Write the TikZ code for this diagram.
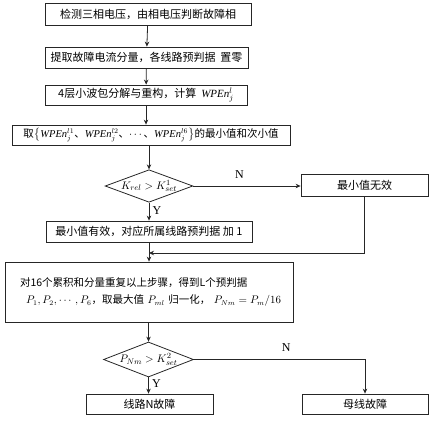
\documentclass[tikz,border=0pt]{standalone}
\usepackage{amsmath}
\usepackage{fontspec}
\setmainfont{Liberation Serif}
\newfontfamily\cjk{Noto Sans CJK SC}
\usetikzlibrary{shapes.geometric,arrows.meta}
\newcommand{\lw}[0] {0.8pt}

\tikzset{
  box/.style={shape=rectangle,draw=black!85,line width=\lw,inner sep=0pt,font=\cjk\fontsize{11}{13}\selectfont},
  decision/.style={shape=diamond,draw=black!85,line width=\lw,aspect=2.7,inner sep=0pt,minimum width=84pt,minimum height=31pt,font=\fontsize{11}{13}\selectfont},
  flow/.style={line width=\lw,draw=black!85,-{Stealth[length=5pt,width=4.5pt]}},
  tag/.style={font=\fontsize{12}{13}\selectfont}
}

\begin{document}
\begin{tikzpicture}[x=1pt,y=-1pt]
        \useasboundingbox (0,0) rectangle (435,420);

        \node[box,minimum width=206pt,minimum height=22pt] (detect) at (148,14)     {检测三相电压，由相电压判断故障相};
        \node[box,minimum width=203pt,minimum height=21pt] (extract) at (146.5,57.5)     {提取故障电流分量，各线路预判据\ \ 置零};
        \node[box,minimum width=202pt,minimum height=20pt] (wpd) at (146,95)     {4层小波包分解与重构，计算 \ $\mathit{WPEn}_j^l$};
        \node[box,minimum width=278pt,minimum height=20pt,font=\cjk\fontsize{10.5}{13}\selectfont] (pick) at (151,135)     {取$\bigl\{\mathit{WPEn}_j^{l1}$、$\mathit{WPEn}_j^{l2}$、$\cdots$、$\mathit{WPEn}_j^{l6}\bigr\}$的最小值和次小值};
        \node[decision] (k1) at (149,186)     {$K_{rel}>K_{set}^1$};
        \node[box,minimum width=127pt,minimum height=22pt] (bad) at (364.5,185)     {最小值无效};
        \node[box,minimum width=206pt,minimum height=21pt] (good) at (149,231.5)     {最小值有效，对应所属线路预判据\ 加\ 1};
        \node[box,minimum width=288pt,minimum height=60pt,text width=258pt,align=left,font=\cjk\fontsize{10.5}{13}\selectfont] (repeat) at (149,292)     {对16个累积和分量重复以上步骤，得到L个预判据\\[4pt]
          \mbox{\hspace{6pt}$P_1,P_2,\cdots,P_6$，取最大值 $P_{ml}$ 归一化，\ $P_{Nm}=P_m/16$}};
        \node[decision,minimum height=35pt] (k2) at (148.5,359.5)     {$P_{Nm}>K_{set}^2$};
        \node[box,minimum width=127pt,minimum height=20pt] (line) at (149.5,404)     {线路N故障};
        \node[box,minimum width=126pt,minimum height=20pt] (bus) at (365,404)     {母线故障};
        \coordinate (join) at (149,253);

        %main chain
        \path[flow] (detect) edge (extract);
        \path[flow] (extract) edge (wpd);
        \draw[flow] (wpd.south) -- (wpd.south |- pick.north);
        \draw[flow] (pick.south -| k1.north) -- (k1.north);
        \draw[flow] (k1) -- node[tag,right,pos=0.45] {Y} (good);
        \draw[flow] (k1) -- node[tag,above,pos=0.43,yshift=4pt] {N} (k1 -| bad.west);
        %return and second test
        \draw[flow] (bad.south) |- (join);
        \draw[line width=\lw,draw=black!85] (good) -- (join);
        \draw[flow] (join) -- (join |- repeat.north);
        \draw[flow] (repeat.south -| k2.north) -- (k2.north);
        \draw[flow] (k2) -- node[tag,right,pos=0.4] {Y} (k2 |- line.north);
        \draw[flow] (k2.east) -| node[tag,above,pos=0.27,yshift=4pt] {N} (bus.north);
\end{tikzpicture}
\end{document}
